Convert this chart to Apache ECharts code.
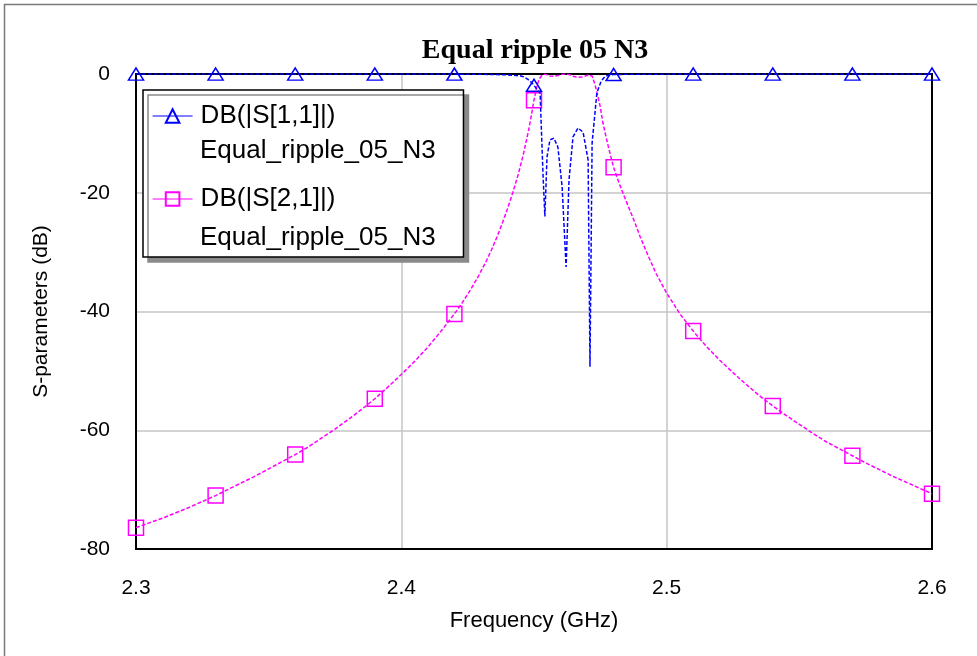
<!DOCTYPE html>
<html>
<head>
<meta charset="utf-8">
<script src="https://cdn.jsdelivr.net/npm/echarts@6/dist/echarts.min.js"></script>
<style>
html,body{margin:0;padding:0;background:#fff;}
#chart{width:977px;height:656px;}
</style>
</head>
<body>
<div id="chart"></div>
<script>
// ---------- data ----------
const chartTitle = 'Equal ripple 05 N3';
const xAxisName = 'Frequency (GHz)';
const yAxisName = 'S-parameters (dB)';
const seriesNames = ['DB(|S[1,1]|)', 'DB(|S[2,1]|)'];
const seriesSubNames = ['Equal_ripple_05_N3', 'Equal_ripple_05_N3'];
const xTickLabels = ['2.3', '2.4', '2.5', '2.6'];
const yTickLabels = ['-80', '-60', '-40', '-20', '0'];

// S11 (blue)
const freqS11 = [2.300, 2.330, 2.360, 2.390, 2.420, 2.430, 2.435, 2.440, 2.4447, 2.446, 2.4477, 2.449, 2.450,
  2.4511, 2.4523, 2.4526, 2.4534, 2.4541, 2.4549, 2.4560, 2.4575, 2.4590, 2.4606, 2.4621, 2.4632, 2.4647,
  2.4666, 2.4685, 2.4704, 2.4711, 2.4719, 2.4737, 2.4753, 2.4768, 2.4786, 2.480, 2.490, 2.510, 2.540, 2.570, 2.600];
const dbS11 = [-0.01, -0.01, -0.01, -0.01, -0.02, -0.05, -0.08, -0.15, -0.3, -0.45, -0.9, -1.4, -1.9,
  -2.6, -3.2, -7.0, -17.0, -24.0, -14.0, -11.1, -10.8, -12.3, -19.0, -32.5, -17.8, -10.6,
  -9.1, -9.8, -14.5, -49.3, -11.6, -3.2, -1.2, -0.4, -0.15, -0.08, -0.03, -0.01, -0.01, -0.01, -0.01];

// S21 (magenta)
const freqS21 = [2.300, 2.305, 2.310, 2.315, 2.320, 2.325, 2.330, 2.335, 2.340, 2.345, 2.350, 2.355, 2.360,
  2.365, 2.370, 2.375, 2.380, 2.385, 2.390, 2.395, 2.400, 2.405, 2.410, 2.415, 2.420, 2.423, 2.426, 2.429,
  2.432, 2.434, 2.436, 2.438, 2.440, 2.442, 2.444, 2.446, 2.448, 2.449, 2.450, 2.451, 2.452, 2.453, 2.4541,
  2.455, 2.456, 2.4575, 2.459, 2.4606, 2.4621, 2.4632, 2.4647, 2.4666, 2.4685, 2.4704, 2.4711, 2.4719,
  2.473, 2.474, 2.475, 2.476, 2.477, 2.478, 2.479, 2.480, 2.482, 2.484, 2.486, 2.488, 2.490, 2.493, 2.496,
  2.500, 2.505, 2.510, 2.515, 2.520, 2.525, 2.530, 2.535, 2.540, 2.545, 2.550, 2.555, 2.560, 2.565, 2.570,
  2.575, 2.580, 2.585, 2.590, 2.595, 2.600];
const dbS21 = [-76.4, -75.6, -74.8, -73.9, -73.0, -72.0, -71.0, -69.9, -68.8, -67.7, -66.5, -65.3, -64.1,
  -62.8, -61.3, -59.8, -58.2, -56.5, -54.7, -52.7, -50.6, -48.4, -46.0, -43.3, -40.4, -38.5, -36.4, -34.1,
  -31.5, -29.6, -27.5, -25.2, -22.7, -20.0, -17.0, -13.5, -9.4, -7.0, -4.4, -2.2, -0.8, -0.2, -0.02,
  -0.15, -0.33, -0.37, -0.27, -0.05, -0.0, -0.07, -0.39, -0.56, -0.48, -0.16, -0.0, -0.35,
  -1.8, -3.6, -5.6, -8.3, -10.3, -12.2, -14.0, -15.7, -18.3, -20.6, -22.8, -25.0, -27.4, -30.6, -33.6,
  -36.9, -40.4, -43.3, -45.9, -48.2, -50.3, -52.3, -54.2, -55.9, -57.5, -59.0, -60.5, -61.9, -63.1, -64.3,
  -65.5, -66.6, -67.7, -68.7, -69.7, -70.7];

// marker spacing used by the plotting tool
const markerStart = 2.3;
const markerStep = 0.03;

// ---------- chart ----------
const SANS = 'Liberation Sans, Arial, sans-serif';
const SERIF = 'Liberation Serif, Times New Roman, serif';

function isMarker(f) {
  const k = (f - markerStart) / markerStep;
  return Math.abs(k - Math.round(k)) < 1e-6;
}
function pairs(fs, vs) { return fs.map((f, i) => [f, vs[i]]); }

const chart = echarts.init(document.getElementById('chart'), null, { renderer: 'canvas' });

const option = {
  animation: false,
  backgroundColor: '#ffffff',
  title: {
    text: chartTitle,
    left: 530,
    textAlign: 'center',
    top: 32,
    textStyle: { fontFamily: SERIF, fontWeight: 'bold', fontSize: 28, color: '#000' }
  },
  grid: {
    left: 136, top: 74, right: 45, bottom: 107, z: 5,
    show: true, borderColor: '#000', borderWidth: 2, backgroundColor: 'transparent'
  },
  xAxis: {
    type: 'value', min: 2.3, max: 2.6, interval: 0.1,
    name: xAxisName, nameLocation: 'middle', nameGap: 61,
    nameTextStyle: { fontFamily: SANS, fontSize: 22, color: '#000' },
    axisLine: { show: false }, axisTick: { show: false },
    axisLabel: {
      margin: 29, fontFamily: SANS, fontSize: 21, color: '#000',
      formatter: (v) => xTickLabels[Math.round((v - 2.3) / 0.1)]
    },
    splitLine: { show: true, lineStyle: { color: '#c4c4c4', width: 1.5 } }
  },
  yAxis: {
    type: 'value', min: -80, max: 0, interval: 20,
    name: yAxisName, nameLocation: 'middle', nameGap: 84,
    nameTextStyle: { fontFamily: SANS, fontSize: 21, color: '#000' },
    axisLine: { show: false }, axisTick: { show: false },
    axisLabel: {
      margin: 26, fontFamily: SANS, fontSize: 21, color: '#000',
      formatter: (v) => yTickLabels[Math.round((v + 80) / 20)]
    },
    splitLine: { show: true, lineStyle: { color: '#c4c4c4', width: 1.5 } }
  },
  legend: {
    orient: 'vertical', left: 143, top: 90,
    data: seriesNames,
    itemWidth: 40, itemHeight: 17, itemGap: 53,
    padding: [11, 128, 43, 9],
    backgroundColor: '#fff', borderColor: '#000', borderWidth: 1.5,
    shadowColor: '#8a8a8a', shadowOffsetX: 5, shadowOffsetY: 5, shadowBlur: 0,
    lineStyle: { type: 'solid', width: 1.2 },
    textStyle: { fontFamily: SANS, fontSize: 26, color: '#000', lineHeight: 30, padding: [0, 0, 0, 3] },
    z: 10
  },
  graphic: [
    {
      type: 'rect', z: -10, silent: true,
      shape: { x: 4.5, y: 4.5, width: 1100, height: 1000 },
      style: { fill: 'none', stroke: '#7a7a7a', lineWidth: 1.5 }
    },
    {
      type: 'text', left: 200, top: 138, z: 20, silent: true,
      style: { text: seriesSubNames[0], font: '26px ' + SANS, fill: '#000' }
    },
    {
      type: 'text', left: 200, top: 225, z: 20, silent: true,
      style: { text: seriesSubNames[1], font: '26px ' + SANS, fill: '#000' }
    }
  ],
  series: [
    {
      name: seriesNames[0], type: 'line',
      data: pairs(freqS11, dbS11),
      symbol: 'triangle',
      symbolSize: (val) => isMarker(val[0]) ? [15, 12] : 0,
      showAllSymbol: true,
      lineStyle: { color: '#0000ff', width: 1.5, type: [4, 2] },
      itemStyle: { color: 'rgba(0,0,0,0)', borderColor: '#0000ff', borderWidth: 1.5 },
      z: 7
    },
    {
      name: seriesNames[1], type: 'line',
      data: pairs(freqS21, dbS21),
      symbol: 'rect',
      symbolSize: (val) => isMarker(val[0]) ? 15 : 0,
      showAllSymbol: true,
      lineStyle: { color: '#ff00ff', width: 1.5, type: [4, 2] },
      itemStyle: { color: 'rgba(0,0,0,0)', borderColor: '#ff00ff', borderWidth: 1.5 },
      z: 6
    }
  ]
};
chart.setOption(option);
</script>
</body>
</html>
